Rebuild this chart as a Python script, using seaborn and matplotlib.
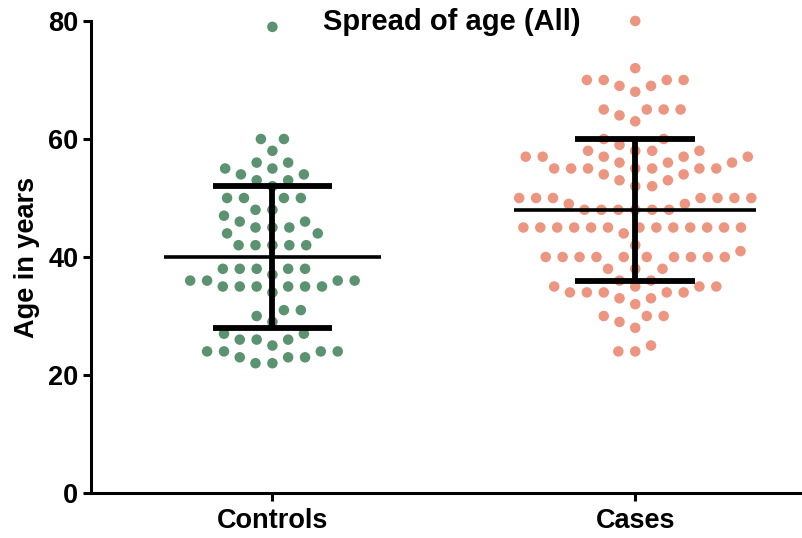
import numpy as np
import pandas as pd
import matplotlib
matplotlib.use("Agg")
import matplotlib.pyplot as plt
import seaborn as sns

# ---- data ----
groups = ["Controls", "Cases"]

controls_values = [79,
                   60, 60, 58, 56, 56, 55, 55, 54, 54, 53, 53, 52,
                   50, 50, 50, 50, 48, 48, 47, 46, 46, 45, 45, 45, 44, 44,
                   42, 42, 42, 42, 42, 38, 38, 38, 38, 38, 37,
                   36, 36, 36, 36, 35, 35, 35, 35, 35, 35, 34,
                   31, 31, 30, 29, 27, 27, 26, 26, 26, 25,
                   24, 24, 24, 24, 23, 23, 23, 22, 22]

cases_values = [80, 72, 70, 70, 70, 70, 69, 69, 68,
                65, 65, 65, 65, 64, 63, 60, 60, 59,
                58, 58, 58, 58, 57, 57, 57, 57, 57, 56, 56, 56,
                55, 55, 55, 55, 55, 55, 55, 54, 54, 53, 53, 52, 52,
                50, 50, 50, 50, 50, 50, 50, 49, 49,
                48, 48, 48, 48, 48, 48,
                45, 45, 45, 45, 45, 45, 45, 45, 45, 45, 45, 45, 45,
                44, 42, 41,
                40, 40, 40, 40, 40, 40, 40, 40, 40, 40,
                38, 38, 38, 36, 36, 35, 35, 35, 35,
                34, 34, 34, 34, 34, 33, 33, 32, 30, 30, 30, 29, 28, 25, 24, 24]

means = [40, 48]
sds = [12, 12]
mean_halfwidths = [0.30, 0.333]
cap_halfwidth = 0.165

colors = {"Controls": "#5b9270", "Cases": "#ec9580"}

df = pd.DataFrame({
    "group": ["Controls"] * len(controls_values) + ["Cases"] * len(cases_values),
    "age": controls_values + cases_values,
})

# ---- figure ----
sns.set_theme(style="white")
plt.rcParams["font.family"] = ["Liberation Sans", "DejaVu Sans"]
plt.rcParams["text.color"] = "black"
plt.rcParams["axes.labelcolor"] = "black"
plt.rcParams["xtick.color"] = "black"
plt.rcParams["ytick.color"] = "black"

fig = plt.figure(figsize=(8.03, 5.38), dpi=100)
ax = fig.add_axes([0.1133, 0.0836, 0.9967 - 0.1133, 0.961 - 0.0836])

ax.set_xlim(-0.5, 1.455)
ax.set_ylim(0, 80)

sns.swarmplot(data=df, x="group", y="age", hue="group", order=groups,
              palette=colors, size=9.6, linewidth=2.0, edgecolor="white",
              legend=False, ax=ax, zorder=2)
for coll in ax.collections:
    coll.set_clip_on(False)

ax.set_xlim(-0.5, 1.455)
ax.set_ylim(0, 80)

for i, (m, s) in enumerate(zip(means, sds)):
    ax.hlines(m, i - mean_halfwidths[i], i + mean_halfwidths[i],
              color="black", lw=2.6, zorder=5)
    ax.vlines(i, m - s, m + s, color="black", lw=4.2, zorder=5)
    ax.hlines([m - s, m + s], i - cap_halfwidth, i + cap_halfwidth,
              color="black", lw=4.2, zorder=5)

sns.despine(ax=ax)
ax.spines["left"].set_bounds(0, 80)
for sp in ("left", "bottom"):
    ax.spines[sp].set_linewidth(2.2)
    ax.spines[sp].set_color("black")

ax.set_yticks([0, 20, 40, 60, 80])
ax.tick_params(axis="both", direction="out", length=6, width=2.2,
               color="black", labelcolor="black", labelsize=19.5, pad=3,
               left=True, bottom=True)
for lab in ax.get_xticklabels() + ax.get_yticklabels():
    lab.set_fontweight("bold")
ax.tick_params(axis="x", pad=5)

ax.set_xlabel("")
ax.set_ylabel("Age in years", fontsize=19.5, fontweight="bold",
              color="black", labelpad=6)

ax.text(0.509, 0.997, "Spread of age (All)", transform=ax.transAxes,
        ha="center", va="center", fontsize=21, fontweight="bold",
        color="black")

fig.savefig("out.png", dpi=100)
